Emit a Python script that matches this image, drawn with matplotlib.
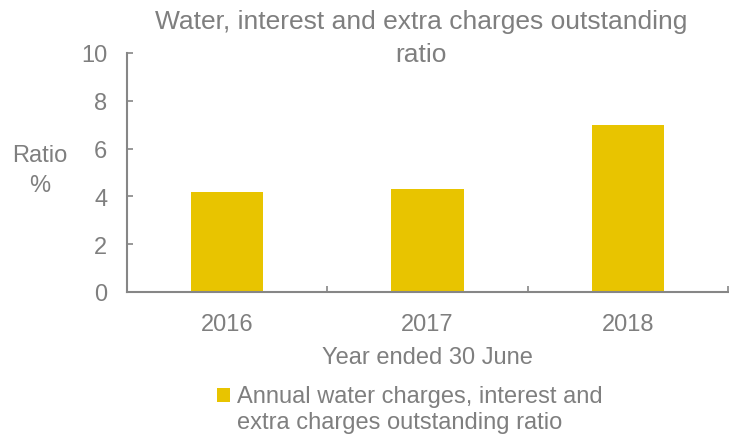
import matplotlib.pyplot as plt
import numpy as np

plt.rcParams['font.family'] = ['Liberation Sans', 'DejaVu Sans']

years = ['2016', '2017', '2018']
ratio = [4.2, 4.3, 7.0]
series_name = 'Annual water charges, interest and\nextra charges outstanding ratio'

grey = '#7f7f7f'
gold = '#e8c400'

fig = plt.figure(figsize=(7.29, 4.39), dpi=100)
ax = fig.add_axes([0.174, 0.333, 0.825, 0.544])

x = np.arange(len(years))
ax.bar(x, ratio, width=0.36, color=gold, label=series_name, zorder=2)

ax.set_xlim(-0.5, 2.5)
ax.set_ylim(0, 10)
ax.set_yticks(range(0, 11, 2))

# category labels sit at bar centres, tick marks go between categories
ax.set_xticks(x)
ax.set_xticklabels(years)
ax.set_xticks([0.5, 1.5, 2.5], minor=True)
ax.tick_params(axis='x', which='major', length=0, pad=15, labelsize=17, labelcolor=grey)
ax.tick_params(axis='x', which='minor', direction='in', length=4, width=1.2, color='#868686')
ax.tick_params(axis='y', direction='in', length=4, width=1.2, color='#868686',
               pad=14, labelsize=17, labelcolor=grey)

for side in ['top', 'right']:
    ax.spines[side].set_visible(False)
for side in ['left', 'bottom']:
    ax.spines[side].set_color('#868686')
    ax.spines[side].set_linewidth(1.5)

fig.text(0.578, 0.912, 'Water, interest and extra charges outstanding\nratio',
         fontsize=19, color=grey, ha='center', va='center', linespacing=1.5)
ax.set_xlabel('Year ended 30 June', fontsize=17, color=grey, labelpad=8)
fig.text(0.055, 0.61, 'Ratio\n%', fontsize=17, color=grey, ha='center', va='center',
         linespacing=1.45)

leg = ax.legend(loc='upper left', bbox_to_anchor=(0.15, -0.39), frameon=False,
                fontsize=17, labelcolor=grey, handlelength=0.55, handleheight=0.55,
                handletextpad=0.3, borderaxespad=0, borderpad=0)
for t in leg.get_texts():
    t.set_linespacing(1.25)
# line the swatch up with the first line of the label
swatch = leg.legend_handles[0]
swatch.set_y(swatch.get_y() + 10.5)

fig.savefig('out.png', dpi=100)
